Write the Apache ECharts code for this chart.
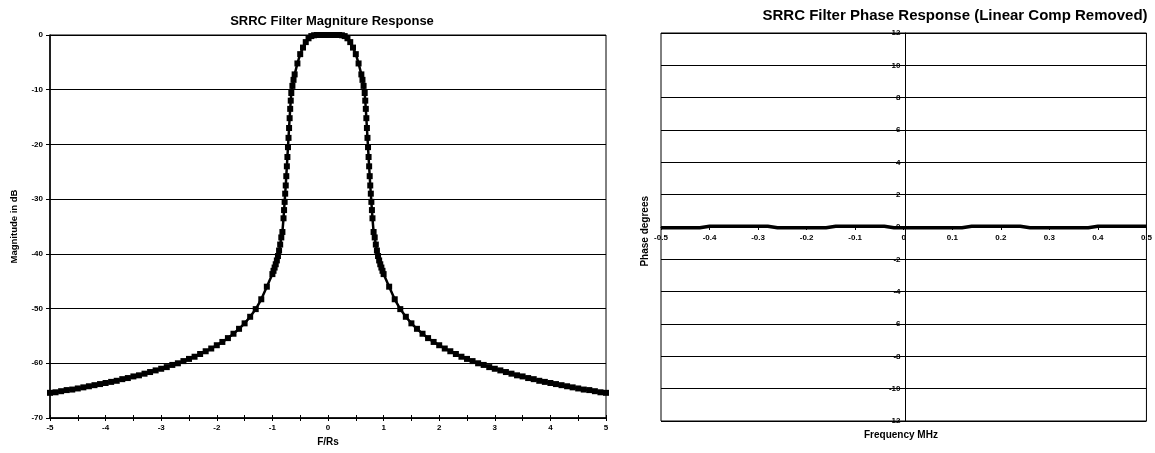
<!DOCTYPE html>
<html>
<head>
<meta charset="utf-8">
<script src="https://cdn.jsdelivr.net/npm/echarts@6/dist/echarts.min.js"></script>
<style>
html,body{margin:0;padding:0;background:#fff;}
#chart{width:1155px;height:453px;}
</style>
</head>
<body>
<div id="chart"></div>
<script>
// ---- Magnitude response (F/Rs vs dB) ----
const magFreq = [-5.0,-4.9,-4.8,-4.7,-4.6,-4.5,-4.4,-4.3,-4.2,-4.1,-4.0,-3.9,-3.8,-3.7,-3.6,-3.5,-3.4,-3.3,-3.2,-3.1,-3.0,-2.9,-2.8,-2.7,-2.6,-2.5,-2.4,-2.3,-2.2,-2.1,-2.0,-1.9,-1.8,-1.7,-1.6,-1.5,-1.4,-1.3,-1.2,-1.1,-1.0,
  -0.98,-0.96,-0.94,-0.92,-0.90,-0.88,-0.86,-0.84,-0.82,-0.80,-0.79,-0.78,-0.77,-0.76,-0.75,-0.74,-0.73,-0.72,-0.71,-0.70,-0.69,-0.68,-0.67,-0.66,-0.64,-0.62,-0.60,
  -0.55,-0.50,-0.45,-0.40,-0.35,-0.30,-0.25,-0.20,-0.15,-0.10,-0.05,0.0,
  0.05,0.10,0.15,0.20,0.25,0.30,0.35,0.40,0.45,0.50,0.55,
  0.60,0.62,0.64,0.66,0.67,0.68,0.69,0.70,0.71,0.72,0.73,0.74,0.75,0.76,0.77,0.78,0.79,0.80,0.82,0.84,0.86,0.88,0.90,0.92,0.94,0.96,0.98,
  1.0,1.1,1.2,1.3,1.4,1.5,1.6,1.7,1.8,1.9,2.0,2.1,2.2,2.3,2.4,2.5,2.6,2.7,2.8,2.9,3.0,3.1,3.2,3.3,3.4,3.5,3.6,3.7,3.8,3.9,4.0,4.1,4.2,4.3,4.4,4.5,4.6,4.7,4.8,4.9,5.0];
const magDb = [-65.4,-65.3,-65.1,-64.9,-64.8,-64.6,-64.4,-64.2,-64.0,-63.8,-63.6,-63.4,-63.2,-62.9,-62.7,-62.4,-62.2,-61.9,-61.6,-61.3,-61.0,-60.7,-60.3,-60.0,-59.6,-59.2,-58.8,-58.3,-57.8,-57.3,-56.7,-56.1,-55.4,-54.6,-53.7,-52.7,-51.5,-50.1,-48.3,-46.0,-43.7,
  -43.1,-42.5,-41.9,-41.2,-40.4,-39.4,-38.3,-37.0,-36.0,-33.5,-32.0,-30.5,-29.0,-27.5,-25.8,-24.0,-22.3,-20.5,-18.8,-17.0,-15.2,-13.5,-12.0,-10.6,-9.3,-8.2,-7.2,
  -5.2,-3.5,-2.3,-1.3,-0.6,-0.2,-0.05,0,0,0,0,0,
  0,0,0,0,-0.05,-0.2,-0.6,-1.3,-2.3,-3.5,-5.2,
  -7.2,-8.2,-9.3,-10.6,-12.0,-13.5,-15.2,-17.0,-18.8,-20.5,-22.3,-24.0,-25.8,-27.5,-29.0,-30.5,-32.0,-33.5,-36.0,-37.0,-38.3,-39.4,-40.4,-41.2,-41.9,-42.5,-43.1,
  -43.7,-46.0,-48.3,-50.1,-51.5,-52.7,-53.7,-54.6,-55.4,-56.1,-56.7,-57.3,-57.8,-58.3,-58.8,-59.2,-59.6,-60.0,-60.3,-60.7,-61.0,-61.3,-61.6,-61.9,-62.2,-62.4,-62.7,-62.9,-63.2,-63.4,-63.6,-63.8,-64.0,-64.2,-64.4,-64.6,-64.8,-64.9,-65.1,-65.3,-65.4];

// ---- Phase response (MHz vs degrees) ----
const phaseFreq = [-0.50,-0.48,-0.46,-0.44,-0.42,-0.40,-0.38,-0.36,-0.34,-0.32,-0.30,-0.28,-0.26,-0.24,-0.22,-0.20,-0.18,-0.16,-0.14,-0.12,-0.10,-0.08,-0.06,-0.04,-0.02,0.00,
  0.02,0.04,0.06,0.08,0.10,0.12,0.14,0.16,0.18,0.20,0.22,0.24,0.26,0.28,0.30,0.32,0.34,0.36,0.38,0.40,0.42,0.44,0.46,0.48,0.50];
const phaseDeg = [-0.04,-0.04,-0.04,-0.04,-0.04,0.04,0.04,0.04,0.04,0.04,0.04,0.04,-0.04,-0.04,-0.04,-0.04,-0.04,-0.04,0.04,0.04,0.04,0.04,0.04,0.04,-0.04,-0.04,
  -0.04,-0.04,-0.04,-0.04,-0.04,-0.04,0.04,0.04,0.04,0.04,0.04,0.04,-0.04,-0.04,-0.04,-0.04,-0.04,-0.04,-0.04,0.04,0.04,0.04,0.04,0.04,0.04];

// ---- Tick settings ----
const magTickInterval = 10;
const phaseTickInterval = 2;

const FONT = '"Liberation Sans", Arial, sans-serif';
const lbl = {fontFamily: FONT, fontWeight: 'bold', fontSize: 8, color: '#000'};

const chart = echarts.init(document.getElementById('chart'), null, {renderer: 'canvas'});

const G1 = {left: 661, top: 33, width: 489, height: 388};

chart.setOption({
  backgroundColor: '#fff',
  animation: false,
  title: [
    {text: 'SRRC Filter Magniture Response', left: 327, top: 10, textAlign: 'center',
     textStyle: {fontFamily: FONT, fontWeight: 'bold', fontSize: 13, color: '#000'}},
    {text: 'SRRC Filter Phase Response (Linear Comp Removed)', left: 950, top: 3, textAlign: 'center',
     textStyle: {fontFamily: FONT, fontWeight: 'bold', fontSize: 15, color: '#000'}}
  ],
  grid: [
    {left: 50, top: 35, width: 556, height: 383, show: true, borderColor: '#000', borderWidth: 1, backgroundColor: 'transparent'},
    Object.assign({show: true, borderColor: '#000', borderWidth: 1, backgroundColor: 'transparent'}, G1)
  ],
  xAxis: [
    {type: 'value', gridIndex: 0, min: -5, max: 5, interval: 0.5, position: 'bottom',
     name: 'F/Rs', nameLocation: 'middle', nameGap: 19,
     nameTextStyle: {fontFamily: FONT, fontWeight: 'bold', fontSize: 10, color: '#000'},
     axisLine: {onZero: false, lineStyle: {color: '#000', width: 1.5}},
     axisTick: {show: true, length: 3, lineStyle: {color: '#000'}},
     axisLabel: Object.assign({margin: 6, formatter: v => Number.isInteger(v) ? String(v) : ''}, lbl),
     splitLine: {show: false}},
    {type: 'value', gridIndex: 0, min: -5, max: 5, interval: 0.5, position: 'bottom', offset: 0,
     axisLine: {show: false, onZero: false},
     axisTick: {show: true, inside: true, length: 3, lineStyle: {color: '#000'}},
     axisLabel: {show: false}, splitLine: {show: false}},
    {type: 'value', gridIndex: 1, min: -0.5, max: 0.5, interval: 0.1, position: 'bottom', offset: -G1.height / 2,
     axisLine: {onZero: false, lineStyle: {color: '#000', width: 1}},
     axisTick: {show: true, length: 3, lineStyle: {color: '#000'}},
     axisLabel: Object.assign({margin: 7, formatter: v => (Math.round(v * 10) / 10).toString()}, lbl),
     splitLine: {show: false}}
  ],
  yAxis: [
    {type: 'value', gridIndex: 0, min: -70, max: 0, interval: magTickInterval,
     name: 'Magnitude in dB', nameLocation: 'middle', nameGap: 31,
     nameTextStyle: {fontFamily: FONT, fontWeight: 'bold', fontSize: 9.5, color: '#000'},
     axisLine: {onZero: false, lineStyle: {color: '#000', width: 1.5}},
     axisTick: {show: true, length: 4, lineStyle: {color: '#000'}},
     axisLabel: Object.assign({margin: 7}, lbl),
     splitLine: {show: true, lineStyle: {color: '#000', width: 1}}},
    {type: 'value', gridIndex: 1, min: -12, max: 12, interval: phaseTickInterval, position: 'left', offset: -G1.width / 2,
     axisLine: {onZero: false, lineStyle: {color: '#000', width: 1}},
     axisTick: {show: true, length: 3, lineStyle: {color: '#000'}},
     axisLabel: Object.assign({margin: 5}, lbl),
     splitLine: {show: true, lineStyle: {color: '#000', width: 1}}}
  ],
  graphic: [
    {type: 'text', left: 640, top: 196, rotation: Math.PI / 2,
     style: {text: 'Phase degrees', font: 'bold 10px ' + FONT, fill: '#000'}},
    {type: 'text', left: 864, top: 430,
     style: {text: 'Frequency MHz', font: 'bold 10px ' + FONT, fill: '#000'}}
  ],
  series: [
    {type: 'line', xAxisIndex: 0, yAxisIndex: 0,
     data: magFreq.map((f, i) => [f, magDb[i]]),
     symbol: 'rect', symbolSize: 6, showSymbol: true,
     itemStyle: {color: '#000'},
     lineStyle: {color: '#000', width: 2.5}},
    {type: 'line', xAxisIndex: 2, yAxisIndex: 1,
     data: phaseFreq.map((f, i) => [f, phaseDeg[i]]),
     symbol: 'none',
     lineStyle: {color: '#000', width: 3.5}}
  ]
});
</script>
</body>
</html>
